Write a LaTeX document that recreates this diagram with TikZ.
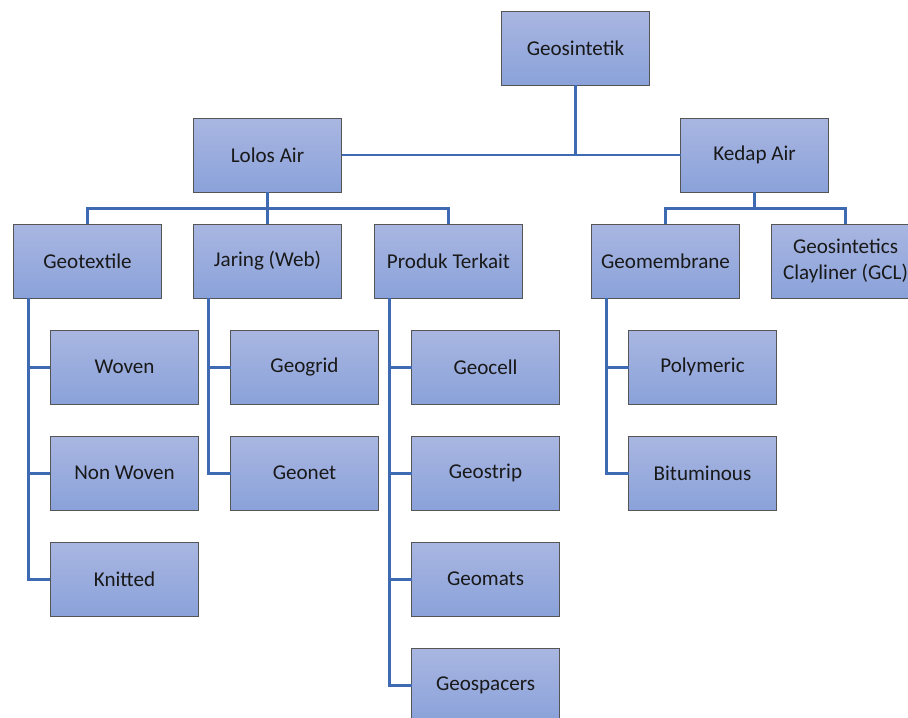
\documentclass[tikz,border=0pt]{standalone}
\usepackage{fontspec}
\setmainfont{Carlito}
\usepackage{xcolor}
\usetikzlibrary{positioning}

\definecolor{boxtop}{HTML}{A9B6E1}
\definecolor{boxbot}{HTML}{8AA2DA}
\definecolor{boxline}{HTML}{555555}
\definecolor{linkblue}{HTML}{3D6AB3}

\begin{document}
\begin{tikzpicture}[
  node distance=0.64cm,
  box/.style={rectangle, draw=boxline, line width=0.5pt, top color=boxtop, bottom color=boxbot,
    minimum width=2.96cm, minimum height=1.48cm, inner sep=2pt, outer sep=0pt, align=center,
    font=\fontsize{12}{14.4}\selectfont, text=black!90},
  link/.style={draw=linkblue, line width=1.7pt},
]
  \useasboundingbox (0,0) rectangle (18.16,-14.34);

  % Root
  \node[box] (geo) at (11.51,-0.96) {Geosintetik};

  % First level
  \node[box, below left=0.66cm and 3.2cm of geo] (lolos) {Lolos Air};
  \node[box, below right=0.66cm and 0.62cm of geo] (kedap) {Kedap Air};

  % Second level
  \node[box, below=of lolos] (jaring) {Jaring (Web)};
  \node[box, left=of jaring] (textile) {Geotextile};
  \node[box, right=0.66cm of jaring] (produk) {Produk Terkait};
  \node[box, right=1.38cm of produk] (membrane) {Geomembrane};
  \node[box, right=of membrane] (gcl) {Geosintetics\\Clayliner (GCL)};

  % Geotextile types
  \node[box, anchor=north west] (woven) at ([xshift=0.74cm, yshift=-0.64cm]textile.south west) {Woven};
  \node[box, below=of woven] (nonwoven) {Non Woven};
  \node[box, below=of nonwoven] (knitted) {Knitted};

  % Jaring types
  \node[box, anchor=north west] (geogrid) at ([xshift=0.74cm, yshift=-0.64cm]jaring.south west) {Geogrid};
  \node[box, below=of geogrid] (geonet) {Geonet};

  % Produk terkait types
  \node[box, anchor=north west] (geocell) at ([xshift=0.74cm, yshift=-0.64cm]produk.south west) {Geocell};
  \node[box, below=of geocell] (geostrip) {Geostrip};
  \node[box, below=of geostrip] (geomats) {Geomats};
  \node[box, below=of geomats] (geospacers) {Geospacers};

  % Geomembrane types
  \node[box, anchor=north west] (polymeric) at ([xshift=0.74cm, yshift=-0.64cm]membrane.south west) {Polymeric};
  \node[box, below=of polymeric] (bitumen) {Bituminous};

  % Connectors
  \draw[link] (geo.south) -- (geo.south |- lolos.east);
  \draw[link] (lolos.east) -- (kedap.west);

  \draw[link] (lolos.south) -- (jaring.north);
  \draw[link] (lolos.south) -- ++(0,-0.32) -| (textile.north);
  \draw[link] (lolos.south) -- ++(0,-0.32) -| (produk.north);

  \draw[link] (kedap.south) -- ++(0,-0.32) -| (membrane.north);
  \draw[link] (kedap.south) -- ++(0,-0.32) -| (gcl.north);

  \draw[link] ([xshift=0.3cm]textile.south west) |- (woven.west);
  \draw[link] ([xshift=0.3cm]textile.south west) |- (nonwoven.west);
  \draw[link] ([xshift=0.3cm]textile.south west) |- (knitted.west);

  \draw[link] ([xshift=0.3cm]jaring.south west) |- (geogrid.west);
  \draw[link] ([xshift=0.3cm]jaring.south west) |- (geonet.west);

  \draw[link] ([xshift=0.3cm]produk.south west) |- (geocell.west);
  \draw[link] ([xshift=0.3cm]produk.south west) |- (geostrip.west);
  \draw[link] ([xshift=0.3cm]produk.south west) |- (geomats.west);
  \draw[link] ([xshift=0.3cm]produk.south west) |- (geospacers.west);

  \draw[link] ([xshift=0.3cm]membrane.south west) |- (polymeric.west);
  \draw[link] ([xshift=0.3cm]membrane.south west) |- (bitumen.west);

\end{tikzpicture}
\end{document}
